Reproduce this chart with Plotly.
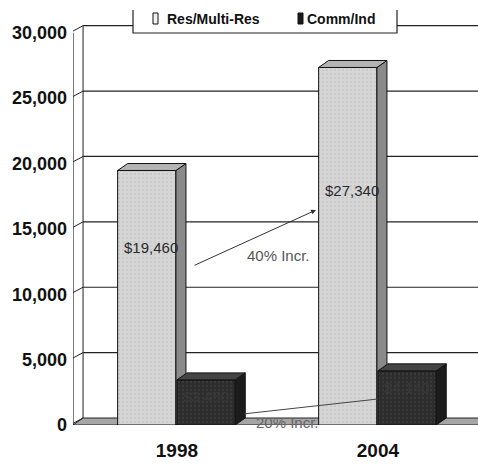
import plotly.graph_objects as go

# ---- data -------------------------------------------------------------
years = ["1998", "2004"]
res_values = [19460, 27340]          # Res/Multi-Res
comm_values = [3450, 4140]           # Comm/Ind
series_names = ["Res/Multi-Res", "Comm/Ind"]
y_ticks = [0, 5000, 10000, 15000, 20000, 25000, 30000]
y_tick_labels = ["0", "5,000", "10,000", "15,000", "20,000", "25,000", "30,000"]
increase_labels = ["40% Incr.", "20% Incr."]

# ---- geometry / style -------------------------------------------------
X_LO, X_HI = -0.517, 1.498
Y_LO, Y_HI = 0, 32500
DX, DY = 0.05, 535                  # pseudo-3D depth offset in axis units
BAR_W = 0.29
RES_OFF, COMM_OFF = -0.295, 0.0
BOLD = "Liberation Sans, Arial, sans-serif"
PLAIN = "Liberation Sans, Arial, sans-serif"

xpos = list(range(len(years)))

RES_STYLE = dict(front="#d6d6d6", side="#8a8a8a", top="#b4b4b4", dots="#bcbcbc")
COMM_STYLE = dict(front="#2c2c2c", side="#1c1c1c", top="#444444", dots="#4a4a4a")


def faces(x0, x1, v):
    side = ([x1, x1 + DX, x1 + DX, x1, x1], [0, DY, v + DY, v, 0])
    top = ([x0, x0 + DX, x1 + DX, x1, x0], [v, v + DY, v + DY, v, v])
    return side, top


fig = go.Figure()


def add_series(values, offset, style, name, xa, ya):
    fig.add_trace(go.Bar(
        x=xpos, y=values, offset=offset, width=BAR_W, name=name,
        marker=dict(color=style["front"], line=dict(color="#111", width=1),
                    pattern=dict(shape=".", fgcolor=style["dots"], size=4, solidity=0.25)),
        xaxis=xa, yaxis=ya, showlegend=False, hoverinfo="skip"))
    for xc, v in zip(xpos, values):
        x0 = xc + offset
        x1 = x0 + BAR_W
        side, top = faces(x0, x1, v)
        for (px, py), col in ((side, style["side"]), (top, style["top"])):
            fig.add_trace(go.Scatter(
                x=px, y=py, fill="toself", fillcolor=col, mode="lines",
                line=dict(color="#111", width=1), xaxis=xa, yaxis=ya,
                showlegend=False, hoverinfo="skip"))


add_series(res_values, RES_OFF, RES_STYLE, series_names[0], "x", "y")
add_series(comm_values, COMM_OFF, COMM_STYLE, series_names[1], "x2", "y2")

shapes = []
# floor slab
shapes.append(dict(type="path", xref="x", yref="y", layer="below",
                   path=f"M{X_LO},0 L{X_LO + DX},{DY} L{X_HI + 1},{DY} L{X_HI + 1},0 Z",
                   fillcolor="#a6a6a6", line=dict(color="#222", width=1)))
# back wall gridlines + tick connectors
for v in y_ticks:
    if v > 0:
        shapes.append(dict(type="line", xref="x", yref="y", layer="below",
                           x0=X_LO + DX, x1=X_HI + 1, y0=v + DY, y1=v + DY,
                           line=dict(color="#222", width=1.2)))
    shapes.append(dict(type="line", xref="x", yref="y", layer="below",
                       x0=X_LO - 0.015, x1=X_LO + DX, y0=v, y1=v + DY,
                       line=dict(color="#222", width=1)))
# side wall edges
shapes.append(dict(type="line", xref="x", yref="y", layer="below",
                   x0=X_LO, x1=X_LO, y0=0, y1=y_ticks[-1],
                   line=dict(color="#222", width=1.2)))
shapes.append(dict(type="line", xref="x", yref="y", layer="below",
                   x0=X_LO + DX, x1=X_LO + DX, y0=DY, y1=y_ticks[-1] + DY,
                   line=dict(color="#222", width=1)))

# legend box (top edge runs off the page)
LX0, LX1 = (133 - 73) / 405, (397 - 73) / 405
LY0, LY1 = (425 - 33) / 425, (425 - 10) / 425
shapes.append(dict(type="rect", xref="paper", yref="paper", x0=LX0, x1=LX1,
                   y0=LY0, y1=1.05, fillcolor="white", line=dict(width=0)))
shapes.append(dict(type="path", xref="paper", yref="paper",
                   path=f"M{LX0},{LY1} L{LX0},{LY0} L{LX1},{LY0} L{LX1},{LY1}",
                   line=dict(color="#222", width=1.2)))
legend_items = [(153, "#f2f2f2", series_names[0], 165),
                (298, "#1a1a1a", series_names[1], 305)]
annotations = []
for mx, col, label, tx in legend_items:
    shapes.append(dict(type="rect", xref="paper", yref="paper",
                       x0=(mx - 73) / 405, x1=(mx + 5 - 73) / 405,
                       y0=(425 - 24) / 425, y1=(425 - 13) / 425,
                       fillcolor=col, line=dict(color="#111", width=1)))
    annotations.append(dict(xref="paper", yref="paper", x=(tx - 73) / 405,
                            y=(425 - 18.5) / 425, xanchor="left", yanchor="middle",
                            text=label, showarrow=False,
                            font=dict(family=BOLD, size=14, color="#111", weight="bold")))

# value labels
res_label_y = [13610, 17970]
for xc, v, ly in zip(xpos, res_values, res_label_y):
    annotations.append(dict(x=xc + RES_OFF + BAR_W / 2, y=ly, xshift=4,
                            text=f"${v:,}", showarrow=False,
                            font=dict(family=PLAIN, size=15, color="#2a2a2a")))
for xc, v in zip(xpos, comm_values):
    annotations.append(dict(x=xc + COMM_OFF + BAR_W / 2, y=v, yshift=-17,
                            text=f"${v:,}", showarrow=False,
                            font=dict(family=PLAIN, size=15, color="#383838")))

# growth arrows
annotations.append(dict(x=0.692, y=16440, ax=0.08, ay=12160, axref="x", ayref="y",
                        text="", showarrow=True, arrowhead=2, arrowsize=1,
                        arrowwidth=1, arrowcolor="#333"))
annotations.append(dict(x=0.507, y=12924, text=increase_labels[0], showarrow=False,
                        font=dict(family=PLAIN, size=15, color="#555")))
annotations.append(dict(x=1.0, y=1988, ax=0.328, ay=841, axref="x", ayref="y",
                        text="", showarrow=True, arrowhead=0,
                        arrowwidth=1, arrowcolor="#444"))
annotations.append(dict(x=0.552, y=229, text=increase_labels[1], showarrow=False,
                        font=dict(family=PLAIN, size=15, color="#666")))

axis_common = dict(range=[Y_LO, Y_HI], showgrid=False, zeroline=False, fixedrange=True)
fig.update_layout(
    width=478, height=466,
    margin=dict(l=73, r=0, t=0, b=41),
    paper_bgcolor="white", plot_bgcolor="white",
    showlegend=False,
    xaxis=dict(range=[X_LO, X_HI], tickvals=xpos, ticktext=years, showgrid=False,
               zeroline=False, showline=False, ticks="", ticklabelstandoff=12,
               tickfont=dict(family=BOLD, size=19, color="#111", weight="bold")),
    yaxis=dict(tickvals=y_ticks, ticktext=y_tick_labels, showline=False, ticks="",
               ticklabelstandoff=5,
               tickfont=dict(family=BOLD, size=18, color="#111", weight="bold"),
               **axis_common),
    xaxis2=dict(range=[X_LO, X_HI], overlaying="x", visible=False),
    yaxis2=dict(overlaying="y", visible=False, **axis_common),
    shapes=shapes,
    annotations=annotations,
)

fig.write_html("out.html")
